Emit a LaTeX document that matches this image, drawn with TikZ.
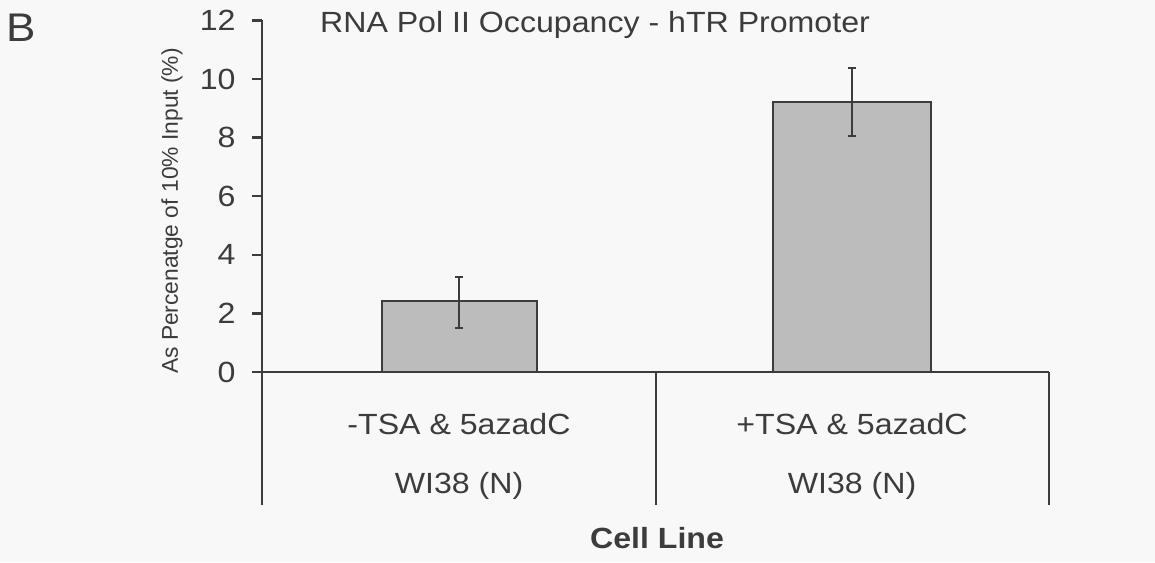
\documentclass[tikz,border=0pt]{standalone}
\usepackage{fontspec}
\setmainfont{Liberation Sans}[FakeStretch=1.1]
\newfontfamily\axisfont{Liberation Sans}
\usepackage{xcolor}
\usetikzlibrary{positioning}
\definecolor{ink}{HTML}{3C3C3C}
\definecolor{barfill}{HTML}{BCBCBC}
\definecolor{paper}{HTML}{F8F8F8}

\begin{document}
\begin{tikzpicture}[x=0.5pt, y=-0.5pt, node distance=31pt]
    \tikzstyle{label} = [font=\fontsize{14.6}{17}\selectfont, text=ink, inner sep=0pt]
    \tikzstyle{ticklabel} = [label, anchor=east]
    \tikzstyle{axis} = [draw=ink, line width=1.2pt]
    \tikzstyle{bar} = [fill=barfill, draw=ink, line width=1pt]
    \tikzstyle{errbar} = [draw=ink, line width=1pt]

    \fill[paper] (0,0) rectangle (1155,562);
    \useasboundingbox (0,0) rectangle (1155,562);

    \node (panel) at (21,28) [label, font=\fontsize{20}{24}\selectfont] {B};
    \node (title) at (595,25) [label] {RNA Pol II Occupancy - hTR Promoter};
    \node (ylabel) at (172,211) [label, font=\axisfont\fontsize{11.4}{13}\selectfont, rotate=90] {As Percenatge of 10\% Input (\%)};

    % axis and category separators
    \coordinate (top) at (262,20);
    \coordinate (left) at (262,505);
    \coordinate (mid) at (656,505);
    \coordinate (right) at (1049,505);
    \draw [axis] (top) -- (left);
    \draw [axis] (252,372) -- (1049,372);
    \draw [axis] (656,372) -- (mid);
    \draw [axis] (1049,372) -- (right);

    \begin{scope}[shift={(0,372)}, y=14.65pt]
        \foreach \v in {0,2,...,12} {
            \draw [axis] (252,\v) -- (262,\v);
            \node (tick\v) at (236,\v) [ticklabel] {\v};
        }
        % bars with error bars
        \draw [bar] (382,0) rectangle (537,2.42);
        \draw [bar] (773,0) rectangle (931,9.2);
        \draw [errbar] (459,1.5) -- (459,3.24)
            (455,1.5) -- (463,1.5) (455,3.24) -- (463,3.24);
        \draw [errbar] (852,8.05) -- (852,10.38)
            (848,8.05) -- (856,8.05) (848,10.38) -- (856,10.38);
    \end{scope}

    \node (ctrl) at (459,424) [label] {-TSA \& 5azadC};
    \node (ctrlcell) [label, below of=ctrl] {WI38 (N)};
    \node (treat) at (852,424) [label] {+TSA \& 5azadC};
    \node (treatcell) [label, below of=treat] {WI38 (N)};
    \node (xlabel) at (657,538) [label, font=\bfseries\fontsize{14.6}{17}\selectfont] {Cell Line};
\end{tikzpicture}
\end{document}
